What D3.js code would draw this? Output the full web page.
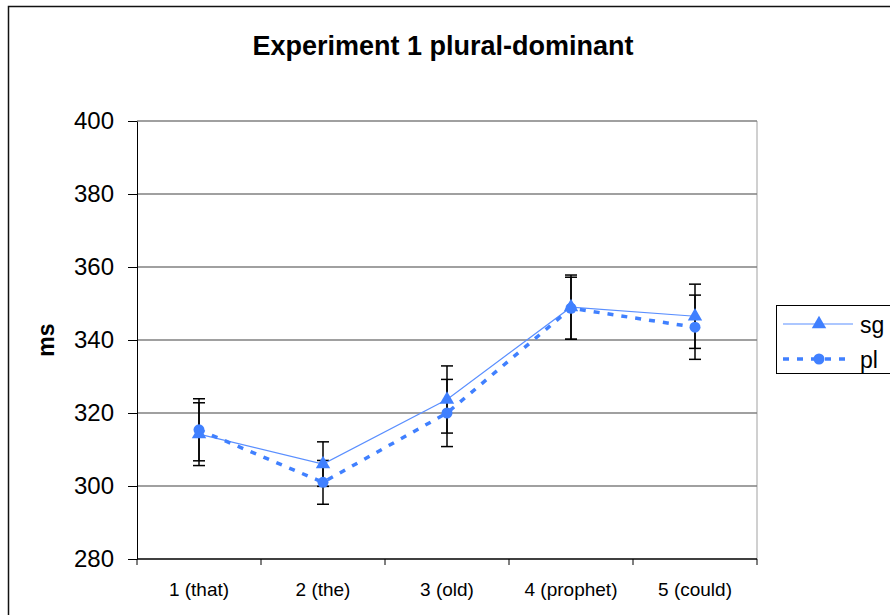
<!DOCTYPE html>
<html>
<head>
<meta charset="utf-8">
<script src="https://cdn.jsdelivr.net/npm/d3@7"></script>
<style>
  body { margin: 0; background: #fff; }
  text { font-family: "Liberation Sans", Arial, sans-serif; }
</style>
</head>
<body>
<script>
// values
const categories = ["1 (that)", "2 (the)", "3 (old)", "4 (prophet)", "5 (could)"];
const sgMeans = [314.2, 306, 323.7, 349, 346.5];
const sgErr = [8.6, 6.1, 9.2, 8.8, 8.8];
const plMeans = [315.4, 301, 320, 348.7, 343.5];
const plErr = [8.5, 6, 9.2, 8.5, 8.8];
const yTicks = [280, 300, 320, 340, 360, 380, 400];

const width = 890, height = 615;
const marginLeft = 137, marginRight = 133, marginTop = 121, marginBottom = 56;
const blue = "#4080ff";

const svg = d3.select("body").append("svg")
  .attr("width", width)
  .attr("height", height)
  .attr("viewBox", [0, 0, width, height]);

// outer chart border
svg.append("rect")
  .attr("x", 8.5).attr("y", 6.5)
  .attr("width", width).attr("height", height)
  .attr("fill", "none").attr("stroke", "#111").attr("stroke-width", 1.5);

const x = d3.scaleBand()
  .domain(categories)
  .range([marginLeft, width - marginRight]);
const y = d3.scaleLinear()
  .domain([280, 400])
  .range([height - marginBottom, marginTop]);

// plot area right edge
svg.append("line")
  .attr("x1", width - marginRight).attr("x2", width - marginRight)
  .attr("y1", marginTop).attr("y2", height - marginBottom)
  .attr("stroke", "#c0c0c0").attr("stroke-width", 1.5);

// gridlines
svg.append("g")
  .selectAll("line")
  .data(yTicks.slice(1))
  .join("line")
  .attr("x1", marginLeft).attr("x2", width - marginRight)
  .attr("y1", d => y(d)).attr("y2", d => y(d))
  .attr("stroke", "#808080").attr("stroke-width", 1.5);

// y axis
svg.append("g")
  .attr("transform", `translate(${marginLeft},0)`)
  .call(d3.axisLeft(y).tickValues(yTicks).tickSize(9).tickPadding(14).tickSizeOuter(0))
  .call(g => g.select(".domain").attr("stroke", "#000").attr("stroke-width", 1))
  .call(g => g.selectAll(".tick line").attr("stroke", "#000"))
  .call(g => g.selectAll(".tick text")
    .attr("font-size", 24).attr("fill", "#000")
    .attr("font-family", "'Liberation Sans', Arial, sans-serif"));

// x axis: ticks between categories
const xAxis = svg.append("g")
  .attr("transform", `translate(0,${height - marginBottom})`);
xAxis.append("line")
  .attr("x1", marginLeft).attr("x2", width - marginRight)
  .attr("stroke", "#000").attr("stroke-width", 1.5);
xAxis.selectAll(".sep")
  .data(d3.range(categories.length + 1))
  .join("line")
  .attr("class", "sep")
  .attr("x1", i => marginLeft + i * x.step())
  .attr("x2", i => marginLeft + i * x.step())
  .attr("y1", 0).attr("y2", 6)
  .attr("stroke", "#000");
xAxis.selectAll(".lab")
  .data(categories)
  .join("text")
  .attr("class", "lab")
  .attr("x", d => x(d) + x.bandwidth() / 2)
  .attr("y", 37)
  .attr("text-anchor", "middle")
  .attr("font-size", 19)
  .text(d => d);

// title and axis label
svg.append("text")
  .attr("x", 443).attr("y", 55)
  .attr("text-anchor", "middle")
  .attr("font-size", 27).attr("font-weight", "bold")
  .text("Experiment 1 plural-dominant");

svg.append("text")
  .attr("transform", `translate(54,${y(340)}) rotate(-90)`)
  .attr("text-anchor", "middle")
  .attr("font-size", 23).attr("font-weight", "bold")
  .text("ms");

const cx = i => x(categories[i]) + x.bandwidth() / 2;
const series = [
  {name: "sg", means: sgMeans, err: sgErr},
  {name: "pl", means: plMeans, err: plErr}
];

// error bars
const eb = svg.append("g").attr("stroke", "#000").attr("stroke-width", 1.5);
series.forEach(s => {
  s.means.forEach((m, i) => {
    const lo = y(m - s.err[i]), hi = y(m + s.err[i]);
    eb.append("line").attr("x1", cx(i)).attr("x2", cx(i)).attr("y1", lo).attr("y2", hi);
    eb.append("line").attr("x1", cx(i) - 6).attr("x2", cx(i) + 6).attr("y1", lo).attr("y2", lo);
    eb.append("line").attr("x1", cx(i) - 6).attr("x2", cx(i) + 6).attr("y1", hi).attr("y2", hi);
  });
});

const line = d3.line().x((d, i) => cx(i)).y(d => y(d));

svg.append("path")
  .attr("d", line(sgMeans))
  .attr("fill", "none").attr("stroke", "#5a8fff").attr("stroke-width", 1.2);
svg.append("path")
  .attr("d", line(plMeans))
  .attr("fill", "none").attr("stroke", blue).attr("stroke-width", 3.5)
  .attr("stroke-dasharray", "6,8");

const tri = d3.symbol().type(d3.symbolTriangle).size(90);
svg.append("g").selectAll("circle")
  .data(plMeans)
  .join("circle")
  .attr("cx", (d, i) => cx(i)).attr("cy", d => y(d))
  .attr("r", 5.5)
  .attr("fill", blue);
svg.append("g").selectAll("path")
  .data(sgMeans)
  .join("path")
  .attr("d", tri)
  .attr("transform", (d, i) => `translate(${cx(i)},${y(d)})`)
  .attr("fill", blue);

// legend
const lg = svg.append("g").attr("transform", "translate(776,305)");
lg.append("rect")
  .attr("x", 0.5).attr("y", 0.5).attr("width", 130).attr("height", 68)
  .attr("fill", "#fff").attr("stroke", "#000");
lg.append("line").attr("x1", 7).attr("x2", 77).attr("y1", 19).attr("y2", 19)
  .attr("stroke", "#5a8fff").attr("stroke-width", 1.2);
lg.append("path").attr("d", tri).attr("transform", "translate(43,19)").attr("fill", blue);
lg.append("line").attr("x1", 7).attr("x2", 77).attr("y1", 54).attr("y2", 54)
  .attr("stroke", blue).attr("stroke-width", 3.5).attr("stroke-dasharray", "6,8");
lg.append("circle").attr("cx", 43).attr("cy", 54).attr("r", 5.5).attr("fill", blue);
lg.append("text").attr("x", 84).attr("y", 28).attr("font-size", 23).text("sg");
lg.append("text").attr("x", 84).attr("y", 63).attr("font-size", 23).text("pl");
</script>
</body>
</html>
